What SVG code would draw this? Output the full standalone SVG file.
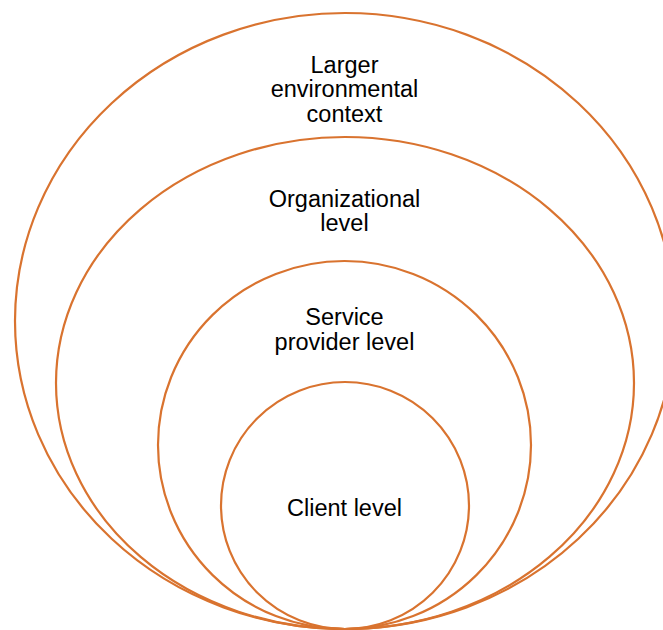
<svg xmlns="http://www.w3.org/2000/svg" width="663" height="630" viewBox="0 0 663 630">
<style>
.ring{fill:none;stroke:#D9732F;stroke-width:2.2}
.lbl{font-family:"Liberation Sans",Arial,sans-serif;font-size:23.5px;fill:#000;text-anchor:middle}
</style>
<rect width="663" height="630" fill="#fff"/>
<g id="larger-environmental-context">
<ellipse class="ring" cx="345" cy="321" rx="330" ry="308"/>
<text class="lbl" x="344.5" y="72.5">Larger</text>
<text class="lbl" x="344.5" y="97">environmental</text>
<text class="lbl" x="344.5" y="121.5">context</text>
</g>
<g id="organizational-level">
<ellipse class="ring" cx="345" cy="383" rx="289" ry="246"/>
<text class="lbl" x="344.5" y="206.5">Organizational</text>
<text class="lbl" x="344.5" y="230.5">level</text>
</g>
<g id="service-provider-level">
<ellipse class="ring" cx="344.5" cy="445" rx="186.5" ry="184"/>
<text class="lbl" x="344.5" y="325">Service</text>
<text class="lbl" x="344.5" y="349.5">provider level</text>
</g>
<g id="client-level">
<ellipse class="ring" cx="345" cy="505.5" rx="124" ry="123.5"/>
<text class="lbl" x="344.5" y="515.5">Client level</text>
</g>
</svg>
